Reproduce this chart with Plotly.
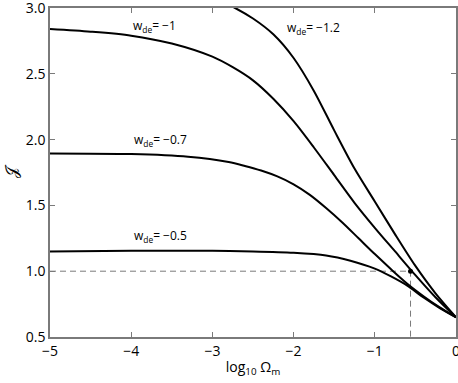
import plotly.graph_objects as go

# Curves of J vs log10(Omega_m) for several w_de
x_w05 = [-5, -4, -3, -2.5, -2, -1.6, -1.3, -1.0, -0.8, -0.6, -0.4, -0.2, 0]
y_w05 = [1.15, 1.155, 1.155, 1.15, 1.14, 1.12, 1.08, 1.02, 0.96, 0.89, 0.80, 0.72, 0.65]

x_w07 = [-5, -4, -3.3, -2.8, -2.6, -2.4, -2.2, -2.0, -1.8, -1.6, -1.4, -1.2, -1.0, -0.8, -0.6, -0.4, -0.2, 0]
y_w07 = [1.895, 1.89, 1.87, 1.83, 1.80, 1.765, 1.72, 1.66, 1.58, 1.48, 1.37, 1.25, 1.13, 1.015, 0.905, 0.81, 0.725, 0.65]

x_w10 = [-5, -4.5, -4, -3.5, -3, -2.75, -2.5, -2.25, -2, -1.75, -1.5, -1.25, -1, -0.75, -0.5, -0.25, 0]
y_w10 = [2.84, 2.82, 2.79, 2.73, 2.63, 2.55, 2.45, 2.31, 2.14, 1.94, 1.73, 1.52, 1.33, 1.15, 0.97, 0.80, 0.65]

x_w12 = [-3.0, -2.72, -2.5, -2.25, -2.0, -1.75, -1.5, -1.25, -1.0, -0.75, -0.5, -0.25, 0]
y_w12 = [3.08, 3.0, 2.92, 2.80, 2.62, 2.37, 2.07, 1.78, 1.53, 1.28, 1.04, 0.83, 0.65]

# marked point (LCDM today) and its guide lines
mark_x = -0.56
mark_y = 1.0

labels = ["w<sub>de</sub>= −1", "w<sub>de</sub>= −1.2", "w<sub>de</sub>= −0.7", "w<sub>de</sub>= −0.5"]
label_x = [-4.0, -2.11, -3.99, -3.99]
label_y = [2.86, 2.85, 2.0, 1.27]

FONT = "Open Sans"
AXIS_COL = "#7a7a7a"

fig = go.Figure()

# dashed guides
fig.add_trace(go.Scatter(x=[-5, mark_x, mark_x], y=[mark_y, mark_y, 0.5], mode="lines",
                         line=dict(color=AXIS_COL, width=1, dash="6px,4px"), hoverinfo="skip"))

for xs, ys in [(x_w05, y_w05), (x_w07, y_w07), (x_w10, y_w10), (x_w12, y_w12)]:
    fig.add_trace(go.Scatter(x=xs, y=ys, mode="lines",
                             line=dict(color="black", width=2, shape="spline", smoothing=0.8)))

fig.add_trace(go.Scatter(x=[mark_x], y=[mark_y], mode="markers",
                         marker=dict(color="black", size=5)))

for t, lx, ly in zip(labels, label_x, label_y):
    fig.add_annotation(x=lx, y=ly, text=t, showarrow=False, xanchor="left", yanchor="middle",
                       font=dict(family=FONT, size=12, color="black"))

axis_common = dict(
    showgrid=False, zeroline=False, showline=True, linecolor=AXIS_COL, linewidth=1.5,
    mirror="ticks", ticks="inside", ticklen=5, tickcolor=AXIS_COL, tickwidth=1,
    tickfont=dict(family=FONT, size=14, color="black"), automargin=False,
    ticklabeloverflow="allow",
)

fig.update_xaxes(range=[-5, 0], tickvals=[-5, -4, -3, -2, -1, 0],
                 ticktext=["−5", "−4", "−3", "−2", "−1", "0"],
                 title=dict(text="log<sub>10</sub> Ω<sub>m</sub>", font=dict(family=FONT, size=14, color="black"),
                            standoff=4),
                 **axis_common)
fig.update_yaxes(range=[0.5, 3.0], tickvals=[0.5, 1.0, 1.5, 2.0, 2.5, 3.0],
                 ticktext=["0.5", "1.0", "1.5", "2.0", "2.5", "3.0"],
                 title=dict(text="𝒥", font=dict(family=FONT, size=16, color="black"), standoff=10),
                 **axis_common)

fig.update_layout(
    width=458, height=383,
    margin=dict(l=50, r=2, t=8, b=46),
    plot_bgcolor="white", paper_bgcolor="white",
    showlegend=False,
    font=dict(family=FONT, color="black"),
)

fig.write_html("out.html", config={"displayModeBar": False},
               post_script="document.body.style.margin='0';")
